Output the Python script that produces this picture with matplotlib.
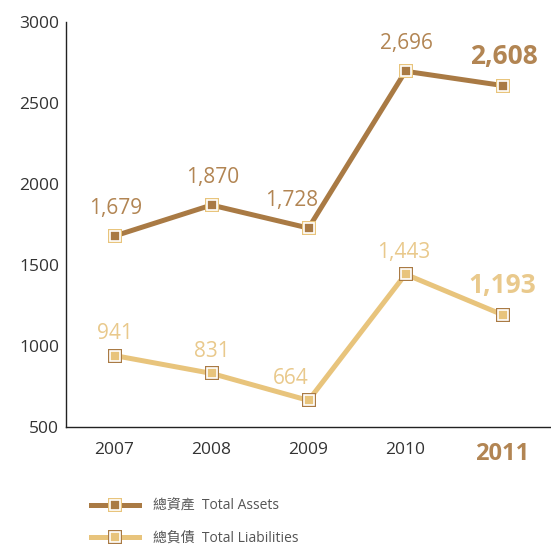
import matplotlib.pyplot as plt
from matplotlib.lines import Line2D
from matplotlib.legend_handler import HandlerTuple

plt.rcParams['font.family'] = ['Open Sans', 'Noto Sans CJK TC', 'DejaVu Sans']

# data (HK$ million)
years = ['2007', '2008', '2009', '2010', '2011']
total_assets = [1679, 1870, 1728, 2696, 2608]
total_liabilities = [941, 831, 664, 1443, 1193]
asset_labels = ['1,679', '1,870', '1,728', '2,696', '2,608']
liab_labels = ['941', '831', '664', '1,443', '1,193']

brown = '#a97a44'
gold = '#e8c47c'
brown_txt = '#b28553'
gold_txt = '#e9c98c'

fig = plt.figure(figsize=(5.51, 5.49), dpi=100)
ax = fig.add_axes([66 / 551, 1 - 427 / 549, 1 - 66 / 551, (427 - 22) / 549])

x = list(range(len(years)))

def draw_series(vals, line_col, outer_col, inner_col):
    ax.plot(x, vals, color=line_col, lw=3.6, marker='s', ms=10.5,
            mfc=outer_col, mec=outer_col, mew=0, zorder=3)
    ax.plot(x, vals, ls='none', marker='s', ms=7, mfc=inner_col,
            mec='white', mew=1.2, zorder=4)

draw_series(total_assets, brown, gold, brown)
draw_series(total_liabilities, gold, brown, gold)

# value labels, the last year in bold
dx = [0, 0, -13, 0, 0]
for i in x:
    last = i == len(x) - 1
    ax.annotate(asset_labels[i], (x[i], total_assets[i]),
                xytext=(dx[i] + 1, 21 if last else 20), textcoords='offset points',
                ha='center', va='center', color=brown_txt,
                fontsize=19 if last else 15, fontweight='bold' if last else 'normal')
    ax.annotate(liab_labels[i], (x[i], total_liabilities[i]),
                xytext=(dx[i] - 1 if i == 3 else dx[i], 21 if last else 16),
                textcoords='offset points',
                ha='center', va='center', color=gold_txt,
                fontsize=19 if last else 15, fontweight='bold' if last else 'normal')

ax.set_xlim(-0.5, 4.5)
ax.set_ylim(500, 3000)
ax.set_yticks([500, 1000, 1500, 2000, 2500, 3000])
ax.set_xticks(x)
ax.set_xticklabels(years)
for sp in ['top', 'right']:
    ax.spines[sp].set_visible(False)
for sp in ['left', 'bottom']:
    ax.spines[sp].set_color('#222222')
    ax.spines[sp].set_linewidth(1.0)
ax.tick_params(length=0, labelsize=12.5, colors='#333333')
ax.tick_params(axis='y', pad=5)
ax.tick_params(axis='x', pad=11)
lbl = ax.get_xticklabels()[-1]
lbl.set_fontweight('bold')
lbl.set_fontsize(17)
lbl.set_color(brown_txt)

# legend with the two-part square markers
def handle(line_col, outer_col, inner_col):
    h1 = Line2D([], [], color=line_col, lw=3.6, marker='s', ms=10.5,
                mfc=outer_col, mec=outer_col, mew=0)
    h2 = Line2D([], [], ls='none', marker='s', ms=7, mfc=inner_col,
                mec='white', mew=1.2)
    return (h1, h2)

leg = fig.legend([handle(brown, gold, brown), handle(gold, brown, gold)],
                 ['總資產  Total Assets', '總負債  Total Liabilities'],
                 handler_map={tuple: HandlerTuple(ndivide=1)},
                 loc='upper left', bbox_to_anchor=(78 / 551, 1 - 486 / 549),
                 frameon=False, fontsize=10, handlelength=3.5,
                 labelspacing=1.25, handletextpad=1.0, labelcolor='#555555')

fig.savefig('out.png', dpi=100)
